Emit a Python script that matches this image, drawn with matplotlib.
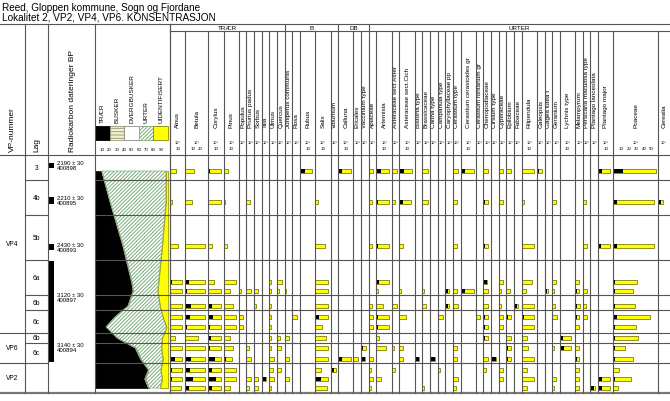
import matplotlib.pyplot as plt
from matplotlib.lines import Line2D
from matplotlib.patches import Rectangle
from matplotlib.transforms import blended_transform_factory as blend

plt.rcParams['font.family'] = ['Liberation Sans', 'DejaVu Sans']
plt.rcParams['hatch.linewidth'] = 0.7

# sample levels and layer boundaries (diagram depth units)
levels = [16, 47, 91, 127, 136, 151, 162, 172, 183, 193, 204, 215, 224, 233]
layer_bounds = [0, 25, 60, 105, 140, 155, 178, 188, 208, 238]
lag = ['3', '4b', '5b', '6a', '6b', '6c', '6b', '6c', '']
vp_names = ['VP4', 'VP6', 'VP2']
vp_bounds = [0, 178, 208, 238]

# radiocarbon dates
c14_text = ['2190 ± 30\n400898', '2210 ± 30\n400895', '2430 ± 30\n400893',
            '3120 ± 30\n400897', '3140 ± 30\n400894']
c14_top = [8, 42, 89, 106, 178]
c14_bottom = [13, 49, 95, 178, 207]

# summary diagram, percent
traer = [9, 20.5, 38, 50, 52, 45, 27, 15, 30, 55, 62, 73, 68, 73]
busker = [0.5, 0.5, 1, 1, 1, 1.5, 1, 0.5, 1, 1, 1, 1, 1.5, 1]
dvergbusker = [0, 0, 0, 0, 0, 0, 0, 0, 0, 0.5, 0.5, 0, 0.5, 0]
urter = [87.5, 76, 53, 36, 33, 42.5, 65, 82.5, 61, 34.5, 29.5, 16, 22, 15]
uidentifisert = [3, 3, 8, 13, 14, 11, 7, 2, 8, 9, 7, 10, 8, 11]

# taxa: name, column width, yellow bar, black bar
trees = [
    ('Alnus', 20, [8, 2, 11, 16, 16, 16, 16, 16, 6, 16, 16, 16, 16, 15],
     [0, 0, 0, 2, 1.5, 1.5, 1.5, 1.5, 0, 1.5, 6.5, 2, 2.5, 1.5]),
    ('Betula', 30, [12, 9, 25.5, 25.5, 25.5, 25.5, 25.5, 25.5, 17, 25.5, 25.5, 25.5, 25.5, 25.5],
     [0, 0, 1.5, 5, 2.5, 7.5, 6, 2.5, 0, 1.5, 7.5, 6.5, 10.5, 5]),
    ('Corylus', 20, [16.5, 16.5, 5, 7, 16.5, 16.5, 16.5, 16.5, 16.5, 16.5, 16.5, 16.5, 16.5, 16.5],
     [2.5, 1.5, 1, 1, 1.5, 4.5, 6.5, 2, 3.5, 2, 9, 4.5, 10, 4.5]),
    ('Pinus', 20, [6.5, 2, 4, 16.5, 9, 12, 16.5, 16.5, 9, 12, 11, 16.5, 16.5, 9],
     [0, 0, 0, 0, 0, 0, 2, 2, 0, 1.5, 3.5, 2, 1.5, 0]),
    ('Populus', 10, [0, 0, 0, 0, 3.5, 0, 6, 6, 0, 0, 0, 0, 0, 0],
     [0, 0, 0, 0, 0, 0, 0, 0, 0, 0, 0, 0, 0, 0]),
    ('Prunus padus', 10, [0, 5, 0, 0, 5.5, 0, 0, 0, 0, 3.5, 5.5, 0, 5.5, 3.5],
     [0, 0, 0, 0, 0, 0, 0, 0, 0, 0, 0, 0, 1, 0]),
    ('Sorbus', 10, [0, 0, 0, 0, 5, 3, 0, 0, 0, 0, 0, 0, 5, 5],
     [0, 0, 0, 0, 0, 0, 0, 0, 0, 0, 0, 0, 1, 1]),
    ('Tilia', 10, [0, 0, 0, 0, 0, 0, 0, 0, 0, 0, 0, 0, 5.5, 0],
     [0, 0, 0, 0, 0, 0, 0, 0, 0, 0, 0, 0, 5.5, 0]),
    ('Ulmus', 10, [0, 0, 0, 2, 2, 2, 1.5, 1.5, 2, 2, 6.5, 5, 6.5, 2],
     [0, 0, 0, 0, 0, 0, 0, 0, 0, 0, 0, 0, 0, 0]),
    ('Quercus', 10, [0, 0, 0, 6, 2.5, 0, 0, 0, 4.5, 5.5, 0, 5.5, 0, 0],
     [0, 0, 0, 0, 0, 0, 0, 0, 0, 0, 0, 0, 0, 0]),
]
shrubs = [
    ('Juniperus communis', 10, [0, 0, 0, 0, 1.5, 0, 0, 0, 6, 0, 5, 0, 5, 0],
     [0, 0, 0, 0, 0, 0, 0, 0, 0, 0, 0, 0, 0, 0]),
    ('Rosa', 10, [0, 0, 0, 0, 0, 0, 6, 0, 0, 0, 0, 0, 0, 0],
     [0, 0, 0, 0, 0, 0, 0, 0, 0, 0, 0, 0, 0, 0]),
    ('Rubus', 20, [15.5, 0, 0, 0, 0, 0, 0, 0, 0, 0, 0, 0, 0, 0],
     [6.5, 0, 0, 0, 0, 0, 0, 0, 0, 0, 0, 0, 0, 0]),
    ('Salix', 20, [0, 3.5, 13, 16.5, 16.5, 16.5, 16.5, 8.5, 14, 16.5, 16.5, 8, 16.5, 16],
     [0, 0, 0, 1.5, 1.5, 1.5, 4.5, 0, 1.5, 1.5, 1.5, 0, 8, 1.5]),
    ('Viburnum', 10, [0, 0, 0, 0, 0, 0, 0, 0, 0, 0, 0, 6.5, 0, 0],
     [0, 0, 0, 0, 0, 0, 0, 0, 0, 0, 0, 4.5, 0, 0]),
]
dwarf_shrubs = [
    ('Calluna', 20, [16.5, 0, 0, 0, 0, 0, 0, 0, 0, 0, 16.5, 0, 0, 0],
     [5.5, 0, 0, 0, 0, 0, 0, 0, 0, 0, 5.5, 0, 0, 0]),
    ('Ericales', 10, [0, 0, 0, 0, 0, 0, 0, 0, 0, 0, 6.5, 0, 0, 0],
     [0, 0, 0, 0, 0, 0, 0, 0, 0, 0, 0, 0, 0, 0]),
    ('Vaccinium type', 10, [0, 0, 0, 0, 0, 0, 0, 0, 0, 6.5, 5.5, 0, 0, 0],
     [0, 0, 0, 0, 0, 0, 0, 0, 0, 3, 5.5, 0, 0, 0]),
]
herbs = [
    ('Apiaceae', 10, [5, 4.5, 4.5, 0, 0, 4.5, 5, 5, 0, 0, 5, 3.5, 5, 3],
     [0, 0, 0, 0, 0, 0, 1.5, 1, 0, 0, 1, 0, 0, 0]),
    ('Artemisia', 20, [16.5, 16.5, 16.5, 16.5, 2, 8, 16.5, 16.5, 3.5, 13, 0, 0, 6.5, 0],
     [6.5, 2, 2, 3.5, 0, 0, 2, 1.5, 0, 1, 0, 0, 0, 0]),
    ('Asteraceae sect Aster', 10, [6.5, 4.5, 0, 0, 0, 7.5, 0, 0, 0, 3, 0, 4.5, 0, 0],
     [0, 0, 0, 0, 0, 0, 0, 0, 0, 0, 0, 0, 0, 0]),
    ('Asteraceae sect.Cich', 20, [16.5, 15.5, 5, 0, 2, 0, 9, 0, 0, 5, 5, 0, 0, 0],
     [5.5, 5, 0, 0, 0, 0, 0, 0, 0, 0, 0, 0, 0, 0]),
    ('Bistorta type', 10, [0, 0, 0, 0, 0, 0, 0, 0, 0, 0, 5.5, 0, 0, 0],
     [0, 0, 0, 0, 0, 0, 0, 0, 0, 0, 5.5, 0, 0, 0]),
    ('Brassicaceae', 10, [7, 7, 0, 0, 2.5, 5, 0, 0, 0, 0, 0, 0, 0, 2.5],
     [0, 0, 0, 0, 0, 0, 0, 0, 0, 0, 0, 0, 0, 0]),
    ('Caltha type', 10, [0, 0, 0, 0, 0, 0, 0, 0, 0, 0, 6.5, 0, 0, 0],
     [0, 0, 0, 0, 0, 0, 0, 0, 0, 0, 6.5, 0, 0, 0]),
    ('Campanula type', 10, [0, 0, 0, 0, 0, 0, 6.5, 0, 0, 0, 0, 3.5, 0, 0],
     [0, 0, 0, 0, 0, 0, 0, 0, 0, 0, 0, 0, 0, 0]),
    ('Caryophyllaceae pp', 10, [0, 0, 0, 0, 5, 5, 0, 0, 0, 0, 0, 0, 0, 0],
     [0, 0, 0, 0, 3, 3, 0, 0, 0, 0, 0, 0, 0, 0]),
    ('Cerastium type', 10, [7, 6, 6, 0, 6, 7, 0, 0, 0, 6, 6, 0, 7, 3.5],
     [2, 0, 0, 0, 0, 1.5, 0, 0, 0, 0, 1.5, 0, 1.5, 0]),
    ('Cerastium cerastoides gr', 20, [17, 0, 0, 0, 17, 0, 0, 0, 0, 0, 0, 0, 0, 0],
     [5.5, 0, 0, 0, 5.5, 0, 0, 0, 0, 0, 0, 0, 0, 0]),
    ('Cerastium fontanum gr', 10, [0, 0, 0, 0, 0, 0, 5.5, 0, 0, 0, 0, 0, 0, 0],
     [0, 0, 0, 0, 0, 0, 0, 0, 0, 0, 0, 0, 0, 0]),
    ('Chenopodiaceae', 10, [6.5, 6.5, 6.5, 5, 6.5, 6.5, 6.5, 6.5, 6.5, 0, 6.5, 3.5, 0, 0],
     [0, 2, 2, 5, 0, 0, 2, 2, 2, 0, 0, 0, 0, 0]),
    ('Cirsium type', 10, [0, 0, 0, 0, 0, 0, 0, 0, 0, 0, 6, 0, 0, 0],
     [0, 0, 0, 0, 0, 0, 0, 0, 0, 0, 6, 0, 0, 0]),
    ('Cyperaceae', 10, [5.5, 5.5, 0, 5.5, 2.5, 3.5, 5.5, 5.5, 0, 0, 0, 5.5, 5.5, 0],
     [0, 0, 0, 2, 0, 0, 0, 2, 0, 0, 0, 0, 0, 0]),
    ('Epilobium', 10, [6.5, 0, 0, 0, 5, 0, 5.5, 0, 5.5, 5.5, 5.5, 0, 0, 0],
     [0, 0, 0, 0, 0, 0, 2, 0, 0, 2, 2, 0, 0, 0]),
    ('Fabaceae', 10, [0, 0, 0, 0, 0, 5, 0, 0, 0, 0, 0, 0, 0, 0],
     [0, 0, 0, 0, 0, 4.5, 0, 0, 0, 0, 0, 0, 0, 0]),
    ('Filipendula', 20, [16, 3, 16, 14, 5.5, 16, 16, 16, 7.5, 8.5, 16, 7.5, 16, 6.5],
     [2, 0, 1.5, 1.5, 0, 1.5, 3, 2, 0, 0, 2, 0, 2, 0]),
    ('Galeopsis', 10, [6.5, 0, 0, 0, 0, 0, 0, 0, 0, 0, 0, 0, 0, 0],
     [2.5, 0, 0, 0, 0, 0, 0, 0, 0, 0, 0, 0, 0, 0]),
    ('Gagea lutea t', 10, [0, 0, 0, 0, 5, 0, 0, 0, 0, 0, 0, 0, 0, 0],
     [0, 0, 0, 0, 2.5, 0, 0, 0, 0, 0, 0, 0, 0, 0]),
    ('Geranium', 10, [0, 4.5, 0, 5.5, 2.5, 3.5, 6.5, 0, 0, 2, 0, 0, 5.5, 2],
     [0, 0, 0, 0, 0, 0, 0, 0, 0, 0, 0, 0, 0, 0]),
    ('Lychnis type', 20, [0, 0, 0, 0, 0, 0, 0, 0, 15, 15, 0, 0, 0, 0],
     [0, 0, 0, 0, 0, 0, 0, 0, 3.5, 5, 0, 0, 0, 0]),
    ('Melampyrum', 10, [0, 0, 0, 5.5, 5.5, 6, 5.5, 5.5, 0, 5.5, 5.5, 5.5, 5.5, 5.5],
     [0, 0, 0, 0, 2, 2, 2, 0, 0, 1.5, 3, 0, 1.5, 0]),
    ('Persicaria maculosa type', 10, [0, 4.5, 5, 0, 5, 3.5, 5.5, 0, 0, 0, 0, 0, 0, 0],
     [0, 0, 0, 0, 0, 0, 0, 0, 0, 0, 0, 0, 0, 0]),
    ('Plantago lanceolata', 10, [0, 0, 0, 0, 0, 0, 0, 0, 0, 0, 0, 0, 0, 6.5],
     [0, 0, 0, 0, 0, 0, 0, 0, 0, 0, 0, 0, 0, 4.5]),
    ('Plantago major', 20, [16, 0, 16, 0, 0, 0, 0, 0, 0, 0, 0, 0, 16, 15.5],
     [5.5, 0, 3.5, 0, 0, 0, 0, 0, 0, 0, 0, 0, 5.5, 5.5]),
    ('Poaceae', 58, [55.5, 53.5, 53.5, 31, 25, 28, 47.5, 30, 32.5, 14.5, 26, 7.5, 22.5, 6.5],
     [13, 5, 5, 2, 1.5, 2, 4.5, 2, 2, 1.5, 2, 0, 1.5, 0]),
    ('Cerealia', 16, [0, 6.5, 0, 0, 0, 0, 0, 0, 0, 0, 0, 0, 0, 0],
     [0, 4.5, 0, 0, 0, 0, 0, 0, 0, 0, 0, 0, 0, 0]),
]
groups = [('TRÆR', trees), ('B', shrubs), ('DB', dwarf_shrubs), ('URTER', herbs)]

# ---- layout (pixels) ----
W, H = 670, 402
TOP, GROUP, HEAD, BOTTOM = 25, 32, 156, 394
TAXA_X0, TAXA_X1 = 170, 670
GRID = dict(color='#555555', lw=0.8)

fig = plt.figure(figsize=(W / 100, H / 100), dpi=100)


def fx(x):
    return x / W


def fy(y):
    return 1 - y / H


def line(xs, ys, **kw):
    fig.add_artist(Line2D([fx(x) for x in xs], [fy(y) for y in ys],
                          transform=fig.transFigure, **kw))


def depth_axes(x0, x1, xlim):
    ax = fig.add_axes([fx(x0), fy(BOTTOM), (x1 - x0) / W, (BOTTOM - HEAD) / H])
    ax.set_xlim(*xlim)
    ax.set_ylim(layer_bounds[-1], 0)
    ax.axis('off')
    return ax


# titles
fig.text(fx(2), fy(8), 'Reed, Gloppen kommune, Sogn og Fjordane', fontsize=7.2, va='center')
fig.text(fx(2), fy(18), 'Lokalitet 2, VP2, VP4, VP6. KONSENTRASJON', fontsize=7.2, va='center')

# left header
for x, label in [(12, 'VP-nummer'), (37, 'Lag'), (72, 'Radiokarbon dateringer BP')]:
    fig.text(fx(x), fy(152), label, rotation=90, ha='center', va='bottom', fontsize=6)

# frame
line([0, W], [TOP, TOP], **GRID)
line([0, W], [HEAD, HEAD], **GRID)
line([TAXA_X0, W], [GROUP, GROUP], **GRID)
line([0, W], [BOTTOM, BOTTOM], color='#777777', lw=1.6)
for x in [25, 48, 95, TAXA_X0]:
    line([x, x], [TOP, BOTTOM], **GRID)

# VP column
ax = depth_axes(0, 25, (0, 1))
for b in vp_bounds[1:-1]:
    ax.axhline(b, **GRID)
for i, name in enumerate(vp_names):
    ax.text(0.5, (vp_bounds[i] + vp_bounds[i + 1]) / 2, name, ha='center', va='center', fontsize=4.8)

# Lag column
ax = depth_axes(25, 48, (0, 1))
for b in layer_bounds[1:-1]:
    ax.axhline(b, **GRID)
for i, name in enumerate(lag):
    ax.text(0.5, (layer_bounds[i] + layer_bounds[i + 1]) / 2, name, ha='center', va='center', fontsize=4.8)

# radiocarbon dates
ax = depth_axes(48, 95, (0, 47))
for top, bot, txt in zip(c14_top, c14_bottom, c14_text):
    ax.bar(3.5, bot - top, bottom=top, width=5, color='black')
    ax.text(9, (top + bot) / 2, txt, va='center', fontsize=4.3, linespacing=1.0)

# summary diagram
styles = [
    ('TRÆR', traer, dict(facecolor='black', edgecolor='black')),
    ('BUSKER', busker, dict(facecolor='#f6f2cf', edgecolor='#9a9a7a', hatch='-----')),
    ('DVERGBUSKER', dvergbusker, dict(facecolor='white', edgecolor='#888888')),
    ('URTER', urter, dict(facecolor='white', edgecolor='#79ad79', hatch='/////////')),
    ('UIDENTIFISERT', uidentifisert, dict(facecolor='#ffff00', edgecolor='#8a8a00')),
]
ax = depth_axes(95, 170, (0, 102.7))
left = [0] * len(levels)
for name, vals, st in styles:
    right = [a + b for a, b in zip(left, vals)]
    ax.fill_betweenx(levels, left, right, lw=0.5, **st)
    left = right
for b in layer_bounds[1:-1]:
    ax.axhline(b, zorder=5, **GRID)
hdr = blend(ax.transData, fig.transFigure)
for v in range(10, 100, 10):
    ax.text(v, fy(150), str(v), transform=hdr, ha='center', va='center', fontsize=3.2)
box_w = 100 / len(styles)
for i, (name, vals, st) in enumerate(styles):
    ax.add_patch(Rectangle((i * box_w, fy(141)), box_w, (141 - 127) / H, transform=hdr,
                           lw=0.6, clip_on=False, **st))
    ax.text((i + 0.5) * box_w, fy(123), name, transform=hdr, rotation=90,
            ha='center', va='bottom', fontsize=4.6)

# taxa columns
total = sum(t[1] for _, taxa in groups for t in taxa)
px_per_unit = (TAXA_X1 - TAXA_X0) / total
x = TAXA_X0
for gname, taxa in groups:
    gx0 = x
    for name, width, yellow, black in taxa:
        x1 = x + width * px_per_unit
        ax = depth_axes(x, x1, (0, width))
        ax.barh(levels, yellow, height=4.5, color='#ffff00', edgecolor='#7d7d10', lw=0.6)
        ax.barh(levels, black, height=4.5, color='black', lw=0)
        for b in layer_bounds[1:-1]:
            ax.axhline(b, **GRID)
        hdr = blend(ax.transData, fig.transFigure)
        ax.text(width / 2, fy(128), name, transform=hdr, rotation=90,
                ha='center', va='bottom', fontsize=4.6)
        ax.text(width / 2, fy(143), '10³', transform=hdr, ha='center', va='center', fontsize=2.8)
        if width >= 20:
            for t in range(10, width, 10):
                ax.text(t, fy(149), str(t), transform=hdr, ha='center', va='center', fontsize=3.2)
        if x > gx0:
            line([x, x], [GROUP, BOTTOM], **GRID)
        x = x1
    line([gx0, gx0], [TOP, BOTTOM], **GRID)
    fig.text(fx((gx0 + x) / 2), fy(28.5), gname, ha='center', va='center', fontsize=4.5)

fig.savefig('out.png', dpi=100)
